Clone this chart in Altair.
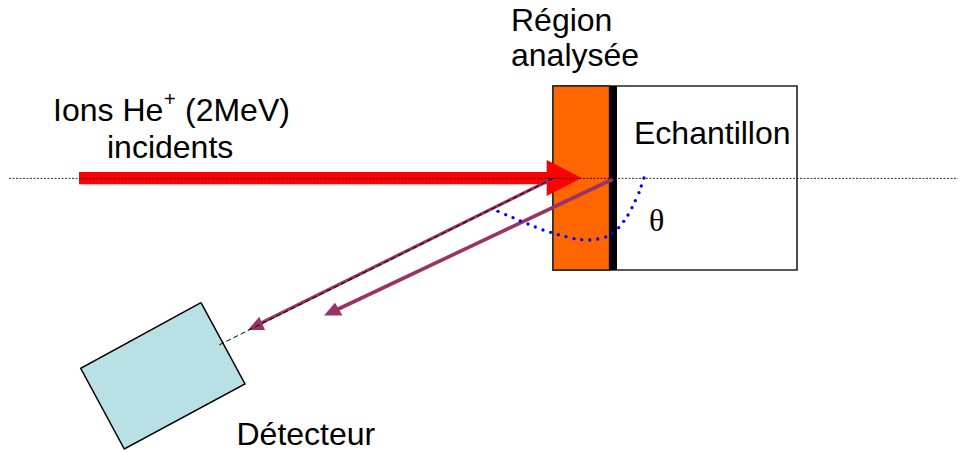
import altair as alt
import pandas as pd

# Diagram geometry, in the reference picture's units
sample_x = [553, 797]
sample_y = [86, 270]
layer_x = [553, 609.5]
film_x = [609.5, 617]
axis_x = [2, 958]
axis_y = [178.4, 178.4]
beam_x = [79, 548]
beam_y = [172, 184.3]
beam_head_x = [546.7, 581.7]
beam_head_top = [160, 178]
beam_head_bot = [196, 178]
ray1_x = [553, 255]
ray1_y = [178.5, 326]
ray2_x = [613, 332]
ray2_y = [179, 312]
guide_x = [553, 217]
guide_y = [178.5, 346]
head1_x = [248, 259.3, 265]
head1_top = [330, 316.7, 330]
head1_bot = [330, 330, 330]
head2_x = [324, 335, 342.5]
head2_top = [315.5, 302.7, 315.5]
head2_bot = [315.5, 315.5, 315.5]
det_x = [80.7, 124.3, 201, 245]
det_top = [368.3, 344.5, 302.7, 384]
det_bot = [368.3, 449, 407.7, 384]
det_outline_x = [201, 80.7, 124.3, 245, 201]
det_outline_y = [302.7, 368.3, 449, 384, 302.7]
arc_x = [644, 641.3, 639, 635.3, 632, 628, 623.7, 618.7, 612.3, 605.7, 597.7, 589.7,
         581.7, 574, 566, 558.3, 550.7, 543, 535.3, 528, 520.3, 513, 505.7, 498]
arc_y = [178, 186, 192.7, 200.7, 207.7, 215, 221.3, 227.7, 233, 237, 239, 240,
         239.7, 238.7, 236.7, 234.7, 232.3, 230, 227, 224, 221, 217.7, 214.7, 211.3]

sans_text = ["Région", "analysée", "Echantillon", "Ions He", "(2MeV)", "incidents", "Détecteur"]
sans_x = [511, 511, 634, 53, 185, 107, 236.5]
sans_y = [30.5, 65.5, 144, 121, 121, 157.5, 445]
sup_text = ["+"]
sup_x = [164]
sup_y = [106]
theta_text = ["θ"]
theta_x = [649]
theta_y = [231]

X = alt.Scale(domain=[8, 958], nice=False, zero=False)
Y = alt.Scale(domain=[452, 8], nice=False, zero=False)


def xe(name="x"):
    return alt.X(f"{name}:Q", scale=X, axis=None)


def ye(name="y"):
    return alt.Y(f"{name}:Q", scale=Y, axis=None)


def rect(xs, ys, **kw):
    d = pd.DataFrame({"x": [xs[0]], "x2": [xs[1]], "y": [ys[0]], "y2": [ys[1]]})
    return alt.Chart(d).mark_rect(**kw).encode(x=xe(), x2="x2:Q", y=ye(), y2="y2:Q")


def poly(xs, top, bot, color):
    d = pd.DataFrame({"x": xs, "y": top, "y2": bot})
    return alt.Chart(d).mark_area(color=color, opacity=1, interpolate="linear").encode(
        x=xe(), y=ye(), y2="y2:Q"
    )


def line(xs, ys, **kw):
    d = pd.DataFrame({"x": xs, "y": ys, "o": list(range(len(xs)))})
    return alt.Chart(d).mark_line(**kw).encode(x=xe(), y=ye(), order="o:Q")


def text(labels, xs, ys, font, size, color="#000000"):
    d = pd.DataFrame({"x": xs, "y": ys, "t": labels})
    return alt.Chart(d).mark_text(
        font=font, fontSize=size, align="left", baseline="alphabetic", color=color
    ).encode(x=xe(), y=ye(), text="t:N")


PURPLE = "#993366"
RED = "#FF0000"

layers = [
    rect(sample_x, sample_y, fill="#FFFFFF", stroke="#222222", strokeWidth=1.6),
    rect(layer_x, sample_y, fill="#FF6600", stroke="#222222", strokeWidth=1.4),
    rect(film_x, sample_y, fill="#000000"),
    rect(beam_x, beam_y, fill=RED),
    poly(beam_head_x, beam_head_top, beam_head_bot, RED),
    poly(det_x, det_top, det_bot, "#B9E0E4"),
    line(det_outline_x, det_outline_y, color="#000000", strokeWidth=1.5),
    line(ray1_x, ray1_y, color=PURPLE, strokeWidth=3.2),
    line(ray2_x, ray2_y, color=PURPLE, strokeWidth=3.6),
    poly(head1_x, head1_top, head1_bot, PURPLE),
    poly(head2_x, head2_top, head2_bot, PURPLE),
    line(axis_x, axis_y, color="#000000", strokeWidth=0.8, strokeDash=[2, 1.5]),
    line(guide_x, guide_y, color="#000000", strokeWidth=1, strokeDash=[5, 3]),
    alt.Chart(pd.DataFrame({"x": arc_x, "y": arc_y})).mark_point(
        filled=True, color="#0000FF", size=11, opacity=1
    ).encode(x=xe(), y=ye()),
    text(sans_text, sans_x, sans_y, "Liberation Sans", 32),
    text(sup_text, sup_x, sup_y, "Liberation Sans", 20),
    text(theta_text, theta_x, theta_y, "Liberation Serif", 32),
]

chart = alt.layer(*layers).properties(
    width=950, height=444, padding=0, autosize=alt.AutoSizeParams(type="none")
).configure_view(stroke=None)

chart.save("out.html", embed_options={"renderer": "svg", "actions": False})
